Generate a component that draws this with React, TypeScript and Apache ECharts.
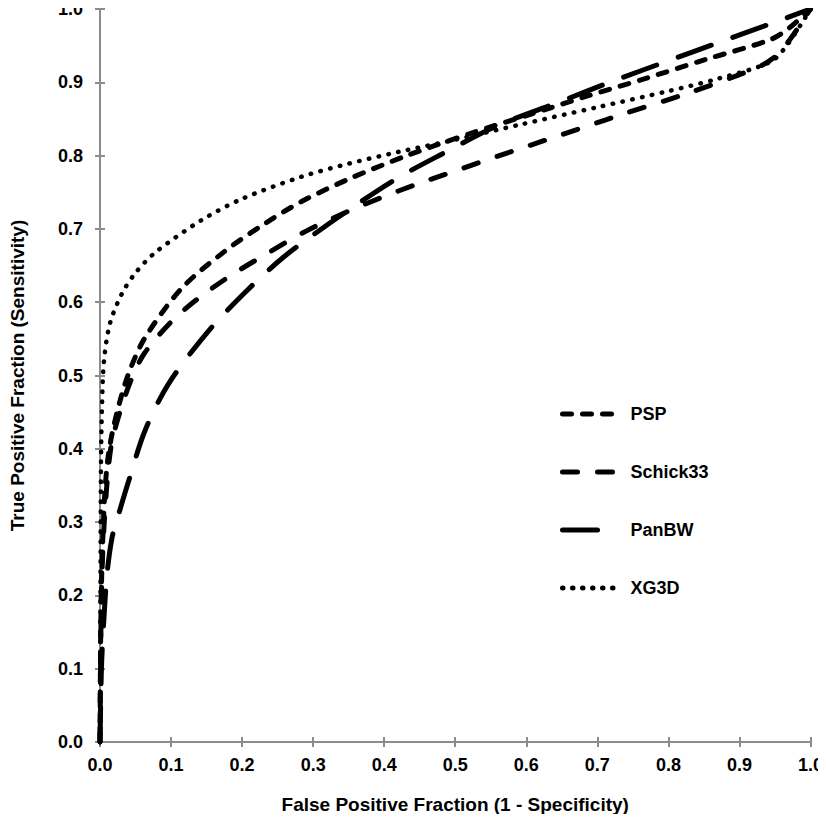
import React, { useEffect, useRef } from "react";
import * as echarts from "echarts";

const seriesNames = ["PSP", "Schick33", "PanBW", "XG3D"];

const psp: number[][] = [
  [0, 0], [0.001, 0.15], [0.003, 0.25], [0.007, 0.343], [0.0126, 0.397], [0.024, 0.45],
  [0.04, 0.502], [0.063, 0.551], [0.115, 0.619], [0.175, 0.669], [0.23, 0.706],
  [0.283, 0.737], [0.35, 0.768], [0.432, 0.8], [0.524, 0.831], [0.608, 0.857],
  [0.685, 0.881], [0.767, 0.905], [0.852, 0.931], [0.943, 0.958], [0.97, 0.974], [1, 1],
];

const schick33: number[][] = [
  [0, 0], [0.002, 0.2], [0.006, 0.3], [0.015, 0.4], [0.028, 0.45], [0.045, 0.497],
  [0.063, 0.531], [0.1, 0.573], [0.138, 0.605], [0.185, 0.637], [0.231, 0.664],
  [0.29, 0.697], [0.347, 0.723], [0.394, 0.742], [0.446, 0.761], [0.497, 0.778],
  [0.544, 0.794], [0.593, 0.81], [0.642, 0.826], [0.688, 0.841], [0.734, 0.856],
  [0.83, 0.886], [0.929, 0.922], [0.958, 0.942], [1, 1],
];

const panBW: number[][] = [
  [0, 0], [0.002, 0.1], [0.005, 0.16], [0.01, 0.23], [0.017, 0.279], [0.026, 0.31],
  [0.04, 0.355], [0.063, 0.424], [0.096, 0.488], [0.152, 0.56], [0.208, 0.617],
  [0.259, 0.662], [0.325, 0.709], [0.413, 0.766], [0.483, 0.803], [0.562, 0.842],
  [0.646, 0.873], [0.723, 0.902], [0.796, 0.928], [0.873, 0.955], [0.947, 0.981], [1, 1],
];

const xg3d: number[][] = [
  [0, 0], [0.0008, 0.25], [0.0015, 0.39], [0.003, 0.465], [0.0056, 0.52], [0.014, 0.571],
  [0.031, 0.612], [0.05, 0.64], [0.078, 0.668], [0.143, 0.712], [0.2, 0.741],
  [0.283, 0.771], [0.35, 0.789], [0.42, 0.805], [0.492, 0.82], [0.59, 0.842],
  [0.7, 0.866], [0.8, 0.888], [0.87, 0.905], [0.944, 0.928], [0.968, 0.952], [1, 1],
];

const seriesData = [psp, schick33, panBW, xg3d];
const dashes = [[9, 11], [15, 20], [35, 23], [0.5, 9.5]];
const widths = [5, 5, 5, 4.5];

const FONT = "'Liberation Sans', Arial, sans-serif";
const AXIS_COLOR = "#8c8c8c";

export default function App() {
  const ref = useRef<HTMLDivElement>(null);
  useEffect(() => {
    if (!ref.current) return;
    const chart = echarts.init(ref.current, undefined, { renderer: "svg" });
    const labelStyle = { fontFamily: FONT, fontWeight: "bold" as const, fontSize: 18, color: "#000" };
    const nameStyle = { ...labelStyle, fontSize: 19 };
    const baseAxis = {
      type: "value" as const,
      min: 0,
      max: 1,
      interval: 0.1,
      splitLine: { show: false },
    };
    chart.setOption({
      animation: false,
      backgroundColor: "#fff",
      grid: { left: 98, right: 13, top: 7.5, bottom: 80, containLabel: false },
      xAxis: [
        {
          ...baseAxis,
          name: "False Positive Fraction (1 - Specificity)",
          nameLocation: "middle",
          nameGap: 53,
          nameTextStyle: nameStyle,
          axisLine: { show: true, lineStyle: { color: AXIS_COLOR, width: 2 } },
          axisTick: { show: true, length: 5, inside: false, lineStyle: { color: AXIS_COLOR, width: 2 } },
          axisLabel: { ...labelStyle, margin: 14, formatter: (v: number) => v.toFixed(1) },
        },
        {
          ...baseAxis,
          position: "bottom",
          axisLine: { show: false },
          axisTick: { show: true, length: 5, inside: true, lineStyle: { color: AXIS_COLOR, width: 2 } },
          axisLabel: { show: false },
        },
      ],
      yAxis: [
        {
          ...baseAxis,
          name: "True Positive Fraction (Sensitivity)",
          nameLocation: "middle",
          nameGap: 73,
          nameTextStyle: nameStyle,
          axisLine: { show: true, lineStyle: { color: AXIS_COLOR, width: 2 } },
          axisTick: { show: true, length: 5, inside: false, lineStyle: { color: AXIS_COLOR, width: 2 } },
          axisLabel: { ...labelStyle, margin: 17, formatter: (v: number) => v.toFixed(1) },
        },
        {
          ...baseAxis,
          position: "left",
          axisLine: { show: false },
          axisTick: { show: true, length: 5, inside: true, lineStyle: { color: AXIS_COLOR, width: 2 } },
          axisLabel: { show: false },
        },
      ],
      legend: {
        orient: "vertical",
        left: 560,
        top: 405,
        padding: 0,
        itemWidth: 56,
        itemHeight: 20,
        itemGap: 40,
        data: seriesNames,
        itemStyle: { opacity: 0 },
        lineStyle: { width: 5, cap: "round" },
        textStyle: { ...labelStyle, padding: [0, 0, 0, 7] },
      },
      series: seriesNames.map((name, i) => ({
        name,
        type: "line",
        xAxisIndex: 0,
        yAxisIndex: 0,
        data: seriesData[i],
        showSymbol: false,
        symbol: "none",
        smooth: 0.3,
        clip: false,
        lineStyle: {
          color: "#000",
          width: widths[i],
          type: dashes[i],
          cap: "round",
          join: "round",
        },
        itemStyle: { color: "#000" },
        z: 10 - i,
      })),
    });
    return () => chart.dispose();
  }, []);
  return <div ref={ref} style={{ width: 826, height: 822, margin: -8 }} />;
}
